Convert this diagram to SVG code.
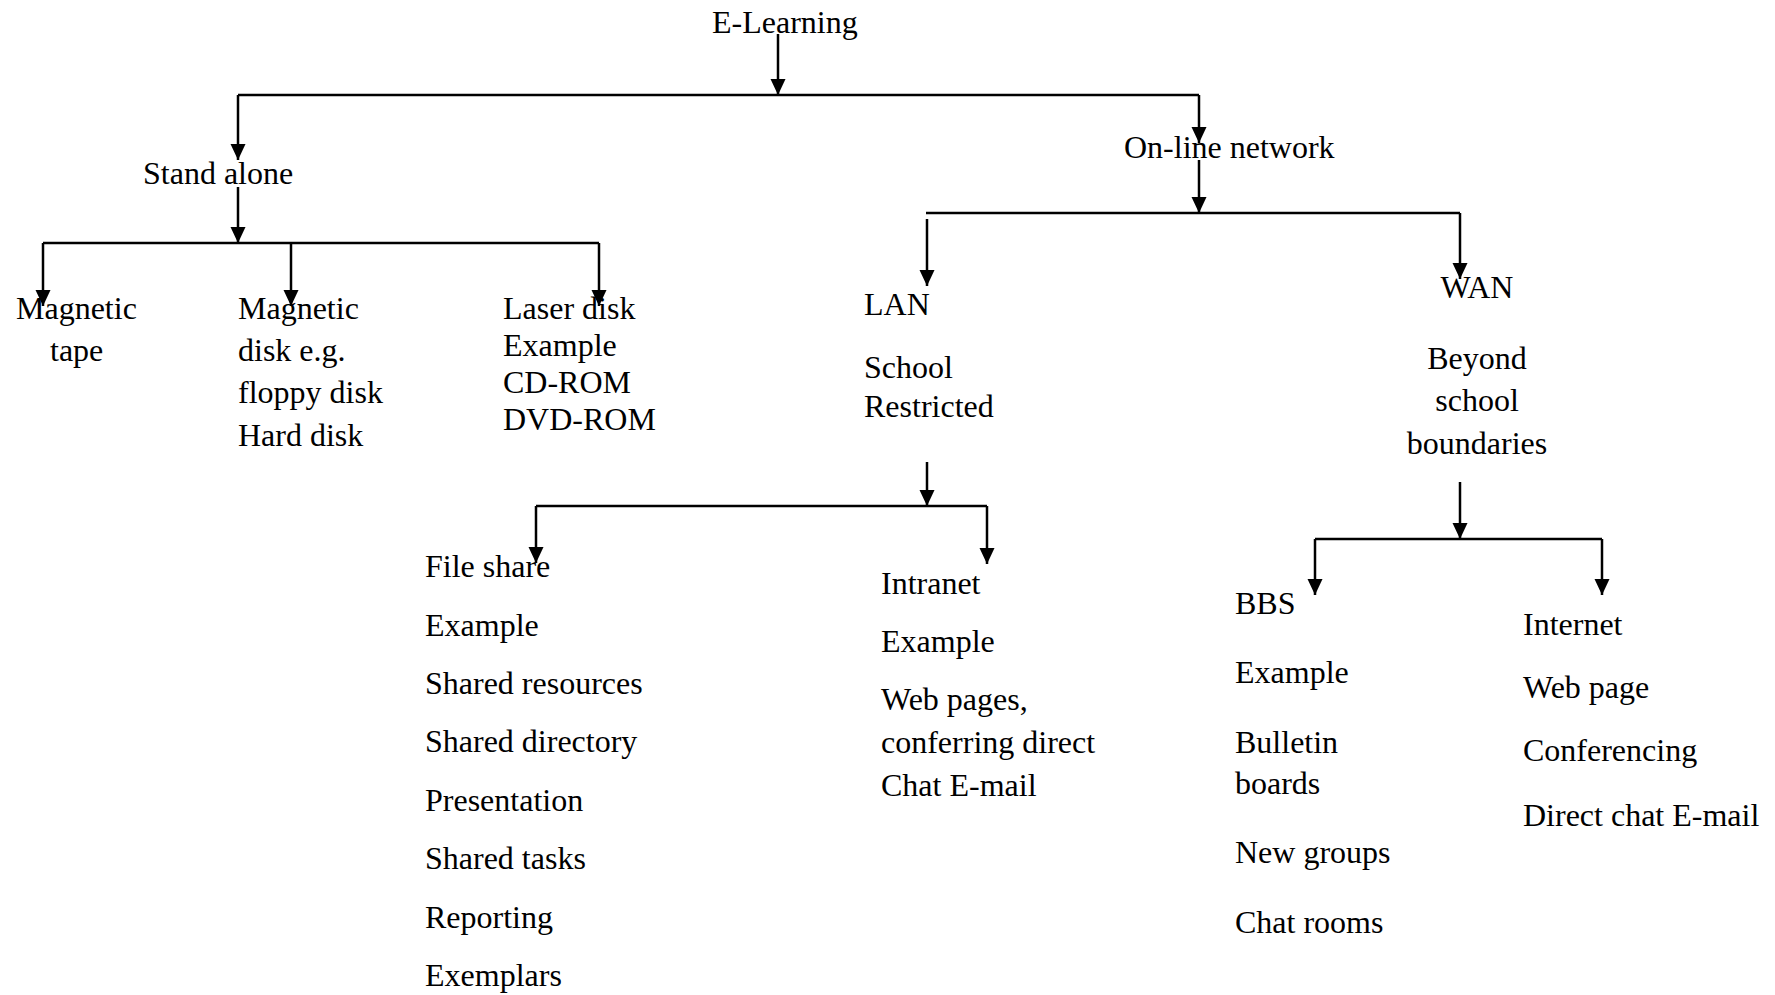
<svg xmlns="http://www.w3.org/2000/svg" width="1775" height="995" viewBox="0 0 1775 995">
<style>
  text { font-family: "Liberation Serif", "Times New Roman", serif; font-size: 32px; fill: #000; }
  .c { text-anchor: middle; }
  .ln { stroke: #000; stroke-width: 2.5; fill: none; }
  .ar { stroke: #000; stroke-width: 2.5; fill: none; marker-end: url(#ah); }
</style>
<defs>
  <marker id="ah" markerUnits="userSpaceOnUse" markerWidth="18" markerHeight="16" refX="16" refY="7.5" orient="auto" viewBox="0 0 18 16" overflow="visible">
    <path d="M0,0 L16,7.5 L0,15 z" fill="#000"/>
  </marker>
</defs>
<rect width="1775" height="995" fill="#fff"/>
<g id="connectors">
  <path class="ar" d="M778,34 V95"/>
  <path class="ln" d="M238,95 H1199"/>
  <path class="ar" d="M238,95 V160"/>
  <path class="ar" d="M1199,95 V143"/>
  <path class="ar" d="M238,187 V243"/>
  <path class="ln" d="M43,243 H599"/>
  <path class="ar" d="M43,243 V306"/>
  <path class="ar" d="M291,243 V306"/>
  <path class="ar" d="M599,243 V306"/>
  <path class="ar" d="M1199,160 V213"/>
  <path class="ln" d="M926,213 H1460"/>
  <path class="ar" d="M927,219 V286"/>
  <path class="ar" d="M1460,213 V279"/>
  <path class="ar" d="M927,462 V506"/>
  <path class="ln" d="M536,506 H987"/>
  <path class="ar" d="M536,506 V563"/>
  <path class="ar" d="M987,506 V564"/>
  <path class="ar" d="M1460,482 V539"/>
  <path class="ln" d="M1315,539 H1602"/>
  <path class="ar" d="M1315,539 V595"/>
  <path class="ar" d="M1602,539 V595"/>
</g>
<g id="n-elearning"><text x="712" y="33">E-Learning</text></g>
<g id="n-standalone"><text x="143" y="184">Stand alone</text></g>
<g id="n-online"><text x="1124" y="158">On-line network</text></g>
<g id="n-magtape">
  <text x="16" y="319">Magnetic</text>
  <text x="50" y="361">tape</text>
</g>
<g id="n-magdisk">
  <text x="238" y="319">Magnetic</text>
  <text x="238" y="361">disk e.g.</text>
  <text x="238" y="403">floppy disk</text>
  <text x="238" y="446">Hard disk</text>
</g>
<g id="n-laser">
  <text x="503" y="319">Laser disk</text>
  <text x="503" y="356">Example</text>
  <text x="503" y="393">CD-ROM</text>
  <text x="503" y="430">DVD-ROM</text>
</g>
<g id="n-lan">
  <text x="864" y="315">LAN</text>
  <text x="864" y="378">School</text>
  <text x="864" y="417">Restricted</text>
</g>
<g id="n-wan">
  <text class="c" x="1477" y="298">WAN</text>
  <text class="c" x="1477" y="369">Beyond</text>
  <text class="c" x="1477" y="411">school</text>
  <text class="c" x="1477" y="454">boundaries</text>
</g>
<g id="n-fileshare">
  <text x="425" y="577">File share</text>
  <text x="425" y="636">Example</text>
  <text x="425" y="694">Shared resources</text>
  <text x="425" y="752">Shared directory</text>
  <text x="425" y="811">Presentation</text>
  <text x="425" y="869">Shared tasks</text>
  <text x="425" y="928">Reporting</text>
  <text x="425" y="986">Exemplars</text>
</g>
<g id="n-intranet">
  <text x="881" y="594">Intranet</text>
  <text x="881" y="652">Example</text>
  <text x="881" y="710">Web pages,</text>
  <text x="881" y="753">conferring direct</text>
  <text x="881" y="796">Chat E-mail</text>
</g>
<g id="n-bbs">
  <text x="1235" y="614">BBS</text>
  <text x="1235" y="683">Example</text>
  <text x="1235" y="753">Bulletin</text>
  <text x="1235" y="794">boards</text>
  <text x="1235" y="863">New groups</text>
  <text x="1235" y="933">Chat rooms</text>
</g>
<g id="n-internet">
  <text x="1523" y="635">Internet</text>
  <text x="1523" y="698">Web page</text>
  <text x="1523" y="761">Conferencing</text>
  <text x="1523" y="826">Direct chat E-mail</text>
</g>
</svg>
